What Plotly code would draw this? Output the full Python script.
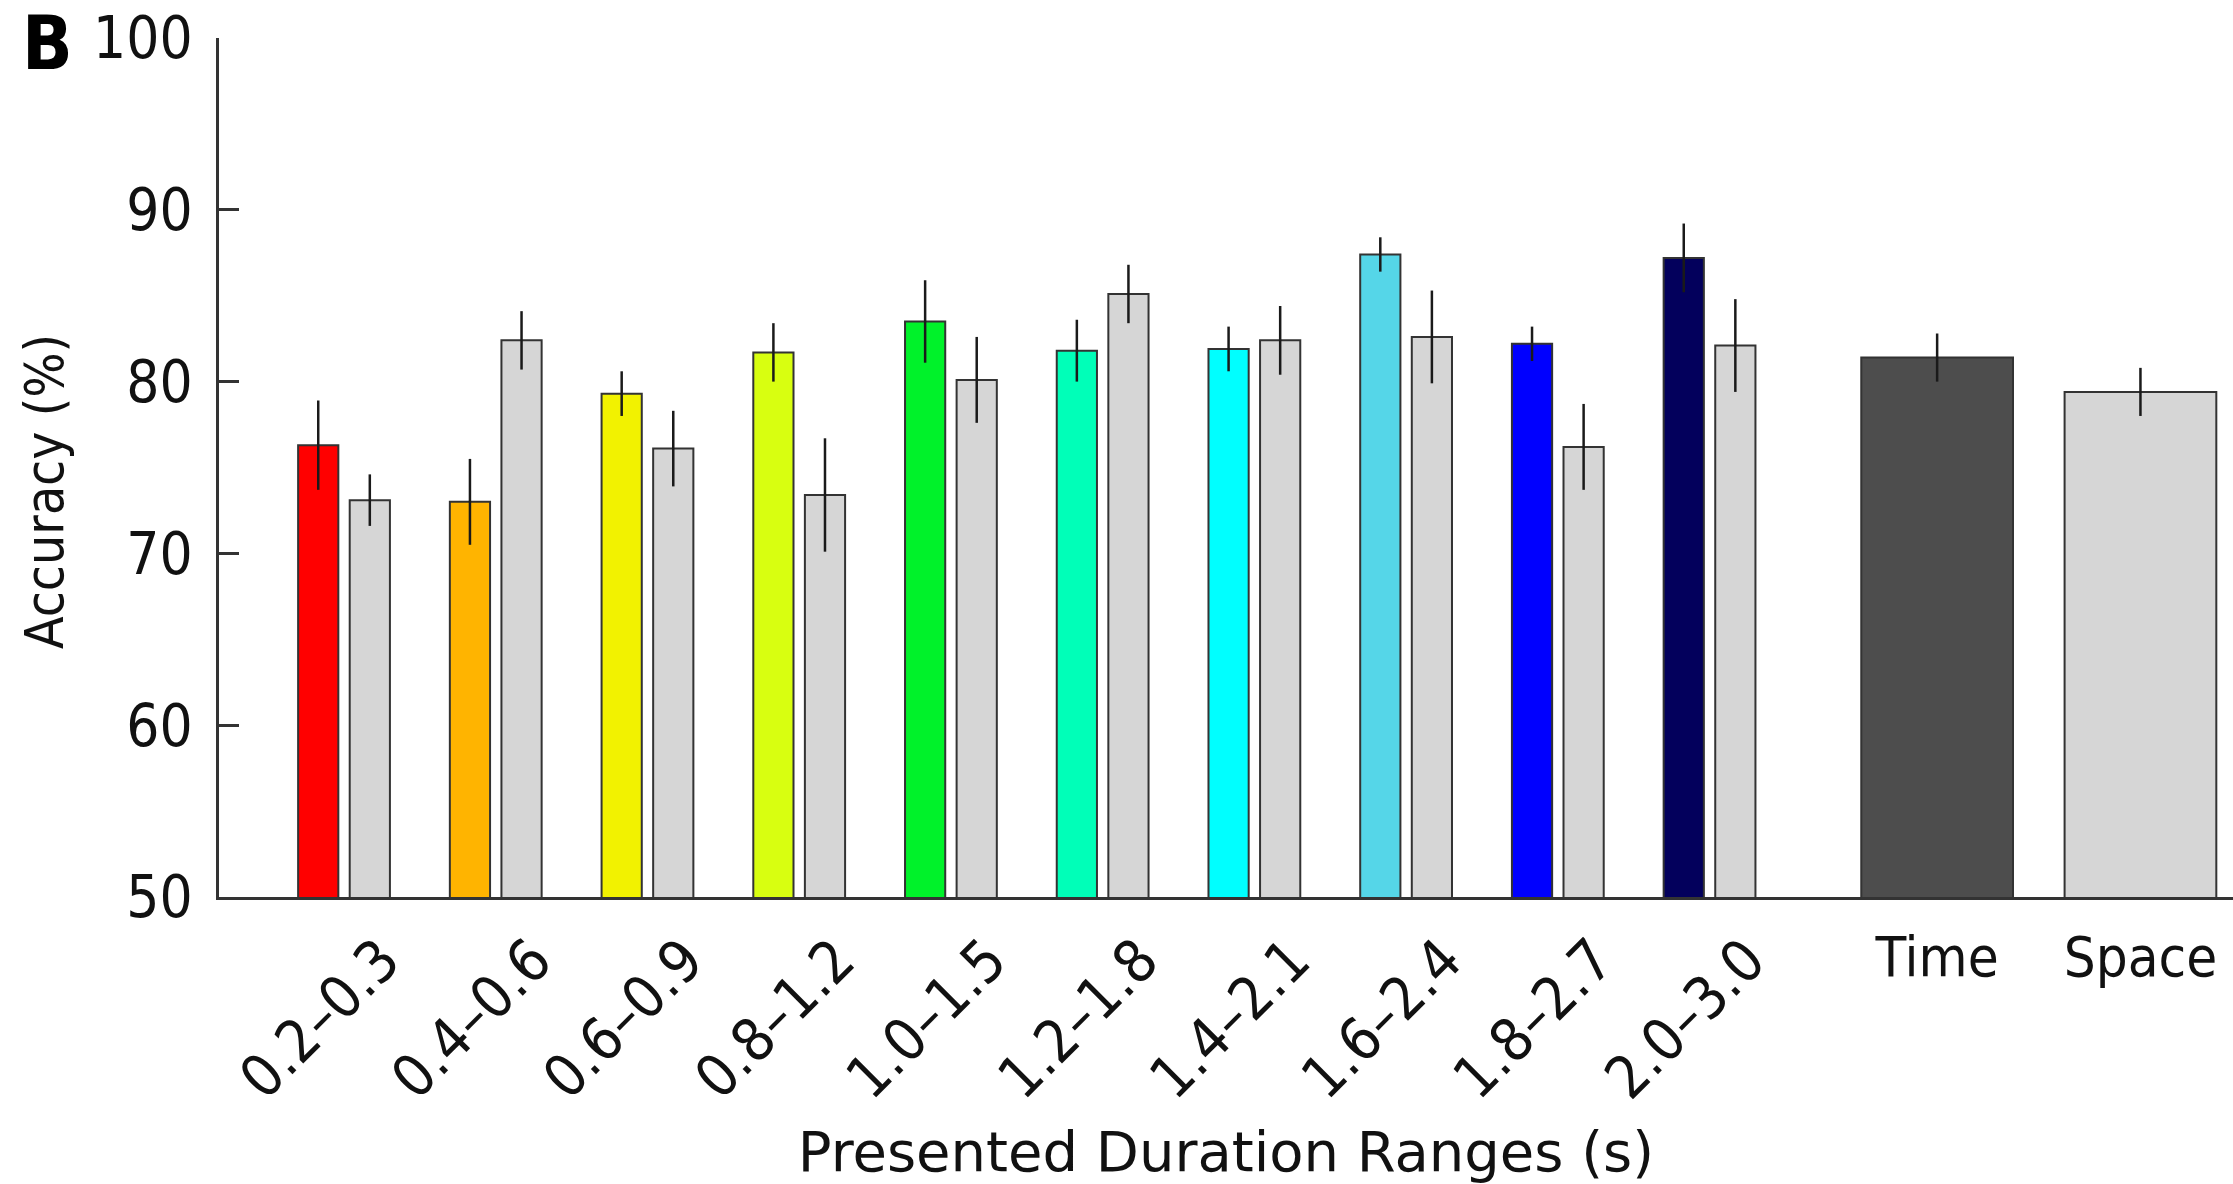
import plotly.graph_objects as go

# ---------------- data ----------------
ranges = ["0.2–0.3", "0.4–0.6", "0.6–0.9", "0.8–1.2", "1.0–1.5",
          "1.2–1.8", "1.4–2.1", "1.6–2.4", "1.8–2.7", "2.0–3.0"]
time_acc = [76.3, 73.0, 79.3, 81.7, 83.5, 81.8, 81.9, 87.4, 82.2, 87.2]
time_err = [2.6, 2.5, 1.3, 1.7, 2.4, 1.8, 1.3, 1.0, 1.0, 2.0]
space_acc = [73.1, 82.4, 76.1, 73.4, 80.1, 85.1, 82.4, 82.6, 76.2, 82.1]
space_err = [1.5, 1.7, 2.2, 3.3, 2.5, 1.7, 2.0, 2.7, 2.5, 2.7]
overall_labels = ["Time", "Space"]
overall_acc = [81.4, 79.4]
overall_err = [1.4, 1.4]
range_colors = ["#ff0000", "#ffb400", "#f2f200", "#d8ff10", "#00f22a",
                "#00ffb8", "#00ffff", "#55d6e8", "#0000ff", "#03005c"]
overall_colors = ["#4d4d4d", "#d6d6d6"]
space_color = "#d6d6d6"

# ---------------- layout geometry ----------------
group_x = list(range(len(ranges)))
pair_offset = 0.17
small_w = 0.265
overall_x = [10.5, 11.84]
big_w = 1.0
x_range = [-0.824, 12.45]

FONT = "DejaVu Sans"
CFONT = "DejaVu Sans Condensed, DejaVu Sans"
LINE = "#333333"
TXT = "#111111"

err_style = dict(type="data", thickness=2.5, width=0, color="#1a1a1a")
bar_line = dict(color=LINE, width=2)

fig = go.Figure()
fig.add_trace(go.Bar(
    x=[g - pair_offset for g in group_x], y=time_acc, width=small_w,
    marker=dict(color=range_colors, line=bar_line),
    error_y=dict(array=time_err, **err_style), name="Time", showlegend=False))
fig.add_trace(go.Bar(
    x=[g + pair_offset for g in group_x], y=space_acc, width=small_w,
    marker=dict(color=space_color, line=bar_line),
    error_y=dict(array=space_err, **err_style), name="Space", showlegend=False))
fig.add_trace(go.Bar(
    x=overall_x, y=overall_acc, width=big_w, xaxis="x2",
    marker=dict(color=overall_colors, line=bar_line),
    error_y=dict(array=overall_err, **err_style), name="Overall", showlegend=False))

fig.update_layout(
    width=2233, height=1184,
    margin=dict(l=219, r=0, t=38, b=287, autoexpand=False),
    paper_bgcolor="white", plot_bgcolor="white",
    barmode="overlay",
    font=dict(family=FONT, size=56, color=TXT),
    xaxis=dict(
        range=x_range, showgrid=False, zeroline=False,
        showline=True, linecolor=LINE, linewidth=2.5,
        ticks="", tickangle=-45,
        tickvals=[g + 0.25 for g in group_x], ticktext=ranges,
        tickfont=dict(family=CFONT, size=59, color=TXT),
        ticklabelstandoff=2,
        title=dict(text="Presented Duration Ranges (s)",
                   font=dict(family=FONT, size=56, color=TXT),
                   standoff=24),
        automargin=False,
    ),
    xaxis2=dict(
        range=x_range, overlaying="x", matches="x", anchor="y", side="bottom",
        showgrid=False, zeroline=False, showline=False, ticks="",
        tickangle=0, tickvals=overall_x, ticktext=overall_labels,
        tickfont=dict(family=CFONT, size=56, color=TXT),
        ticklabelstandoff=22, automargin=False,
    ),
    yaxis=dict(
        range=[50, 100], tickvals=[50, 60, 70, 80, 90, 100],
        showgrid=False, zeroline=False,
        showline=True, linecolor=LINE, linewidth=2.5,
        ticks="inside", ticklen=20, tickwidth=2.5, tickcolor=LINE,
        tickfont=dict(family=CFONT, size=58, color=TXT),
        ticklabelstandoff=12,
        automargin=False,
    ),
    annotations=[
        dict(text="<b>B</b>", xref="paper", yref="paper",
             x=-0.099, y=1.047, xanchor="left", yanchor="top",
             showarrow=False, font=dict(family=CFONT, size=74, color="#000000")),
        dict(text="Accuracy (%)", xref="paper", yref="paper",
             x=-0.0869, y=0.4726, xanchor="center", yanchor="middle",
             textangle=-90, showarrow=False,
             font=dict(family=CFONT, size=53, color=TXT)),
    ],
)

fig.write_html("out.html")
